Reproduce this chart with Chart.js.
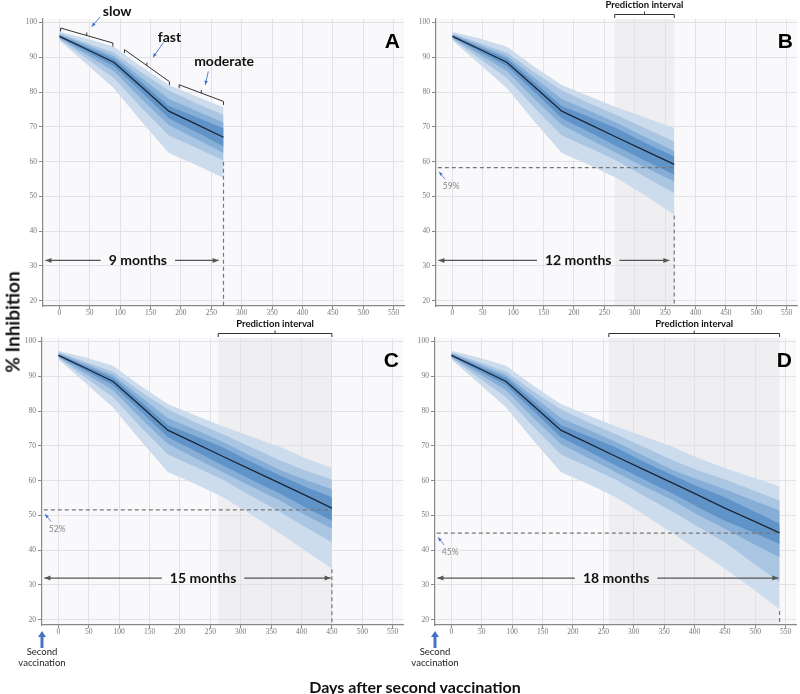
<!DOCTYPE html>
<html>
<head>
<meta charset="utf-8">
<script src="https://cdn.jsdelivr.net/npm/chart.js@4.4.0/dist/chart.umd.min.js"></script>
<style>
  body { margin: 0; background: #fff; font-family: Lato, sans-serif; }
  #page { position: relative; width: 800px; height: 694px; overflow: hidden; }
  canvas { position: absolute; }
  #ytitle { position: absolute; left: 12px; top: 322px; transform: translate(-50%, -50%) rotate(-90deg);
            font-weight: bold; font-size: 19px; white-space: nowrap; color: #111; }
  #xtitle { position: absolute; left: 415px; top: 686px; transform: translate(-50%, -50%);
            font-weight: bold; font-size: 16px; white-space: nowrap; color: #111; }
</style>
</head>
<body>
<div id="page">
  <canvas id="pA" width="393" height="322" style="left:13px;top:0px"></canvas>
  <canvas id="pB" width="393" height="322" style="left:406px;top:0px"></canvas>
  <canvas id="pC" width="393" height="362" style="left:12px;top:319px"></canvas>
  <canvas id="pD" width="393" height="362" style="left:405px;top:319px"></canvas>
  <div id="ytitle">% Inhibition</div>
  <div id="xtitle">Days after second vaccination</div>
</div>
<script>
// ---- data ----
const days   = [0, 45, 90, 135, 180, 225, 270, 315, 365, 405, 450, 495, 540];
const median = [96.0, 92.3, 88.5, 81.5, 74.5, 70.8, 67.0, 63.3, 59.2, 55.9, 52.1, 48.6, 45.0];
// bands, widest (b1) to narrowest (b4)
const b1Hi = [97.3, 95.4, 93.0, 87.3, 82.0, 78.8, 75.6, 72.8, 69.7, 66.6, 63.6, 61.0, 58.3];
const b1Lo = [94.8, 88.0, 81.0, 71.5, 62.5, 59.0, 55.3, 50.5, 44.7, 40.0, 34.7, 29.0, 23.0];
const b2Hi = [96.9, 94.1, 91.3, 85.6, 80.5, 76.8, 73.4, 69.8, 65.8, 63.0, 60.3, 57.3, 54.3];
const b2Lo = [95.2, 89.6, 84.0, 75.5, 67.5, 64.0, 60.3, 55.8, 51.0, 46.8, 42.3, 36.5, 30.8];
const b3Hi = [96.6, 93.5, 90.3, 84.1, 78.0, 74.6, 71.2, 67.3, 63.0, 60.3, 57.5, 54.4, 51.4];
const b3Lo = [95.5, 90.7, 86.0, 78.0, 70.5, 66.5, 62.5, 58.5, 54.3, 50.2, 46.2, 42.0, 38.0];
const b4Hi = [96.3, 92.9, 89.6, 82.8, 76.0, 72.8, 69.6, 65.6, 61.5, 58.3, 55.2, 51.4, 47.6];
const b4Lo = [95.8, 91.6, 87.4, 80.0, 72.5, 68.5, 64.4, 60.5, 56.2, 52.4, 48.5, 45.2, 41.8];

const xTicks = [0, 50, 100, 150, 200, 250, 300, 350, 400, 450, 500, 550];
const yTicks = [20, 30, 40, 50, 60, 70, 80, 90, 100];

const panelLetters = ['A', 'B', 'C', 'D'];
const panelEnds    = [270, 365, 450, 540];
const predStarts   = [null, 267, 263, 259];
const monthLabels  = ['9 months', '12 months', '15 months', '18 months'];
const endValues    = [null, 58.3, 51.6, 44.9];
const endLabels    = [null, '59%', '52%', '45%'];
const dashTops     = [60, 44.5, 34.5, 22.5];

const phaseNames  = ['slow', 'fast', 'moderate'];
const phaseFrom   = [2, 107, 197];
const phaseTo     = [88, 181, 270];

// ---- annotation placement (data units) ----
const phaseBracket = [[98.4, 94.1], [92.2, 83.0], [82.1, 77.3]];
const phaseText    = [[95, 103.1], [181, 95.8], [271, 88.8]];
const phaseArrow   = [[67, 101.6, 53, 98.8], [171, 94.2, 154, 90.0], [245, 85.9, 240, 82.1]];
const monthsY      = [31.6, 31.6, 32.0, 32.0];
const monthsEnd    = [262, 357, 448, 538];
const monthsTextX  = [129, 207, 238, 271];

const bandColors = ['#cddced', '#aac6e2', '#86aed6', '#6094c8'];

function pts(arr, end) {
  const out = [];
  days.forEach((d, i) => { if (d <= end) out.push({ x: d, y: arr[i] }); });
  return out;
}

function arrowHead(ctx, x1, y1, x2, y2, size, width) {
  const ang = Math.atan2(y2 - y1, x2 - x1);
  ctx.beginPath();
  ctx.moveTo(x2, y2);
  ctx.lineTo(x2 - size * Math.cos(ang) + width * Math.sin(ang), y2 - size * Math.sin(ang) - width * Math.cos(ang));
  ctx.lineTo(x2 - size * Math.cos(ang) - width * Math.sin(ang), y2 - size * Math.sin(ang) + width * Math.cos(ang));
  ctx.closePath();
  ctx.fill();
}

function makeAnnot(p) {
  return {
    id: 'annot' + p,
    beforeDraw(chart) {
      const { ctx, chartArea: a, scales: { x } } = chart;
      ctx.save();
      ctx.fillStyle = '#f9f9fb';
      ctx.fillRect(a.left, a.top, a.width, a.height);
      if (predStarts[p] != null) {
        const x0 = x.getPixelForValue(predStarts[p]), x1 = x.getPixelForValue(panelEnds[p]);
        ctx.fillStyle = '#efeff2';
        ctx.fillRect(x0, a.top, x1 - x0, a.height);
      }
      ctx.restore();
    },
    afterDatasetsDraw(chart) {
      const { ctx, chartArea: a, scales: { x, y } } = chart;
      const X = v => x.getPixelForValue(v), Y = v => y.getPixelForValue(v);
      const E = panelEnds[p];
      ctx.save();

      // dashed guide lines
      ctx.strokeStyle = '#777';
      ctx.lineWidth = 1.2;
      ctx.setLineDash([4, 3]);
      ctx.beginPath();
      ctx.moveTo(X(E), Y(dashTops[p]));
      ctx.lineTo(X(E), a.bottom);
      ctx.stroke();
      if (endValues[p] != null) {
        ctx.beginPath();
        ctx.moveTo(X(-24), Y(endValues[p]));
        ctx.lineTo(X(E), Y(endValues[p]));
        ctx.stroke();
      }
      ctx.setLineDash([]);

      // months double arrow
      ctx.font = 'bold 14px Lato';
      ctx.textAlign = 'center';
      ctx.textBaseline = 'middle';
      const my = Y(monthsY[p]), tx = X(monthsTextX[p]);
      const tw = ctx.measureText(monthLabels[p]).width / 2 + 8;
      const xl = X(-23), xr = X(monthsEnd[p]);
      ctx.strokeStyle = '#555';
      ctx.fillStyle = '#555';
      ctx.lineWidth = 1.2;
      ctx.beginPath();
      ctx.moveTo(xl, my); ctx.lineTo(tx - tw, my);
      ctx.moveTo(tx + tw, my); ctx.lineTo(xr, my);
      ctx.stroke();
      arrowHead(ctx, xl + 10, my, xl, my, 6, 2.5);
      arrowHead(ctx, xr - 10, my, xr, my, 6, 2.5);
      ctx.fillStyle = '#111';
      ctx.fillText(monthLabels[p], tx, my);

      // end value label with small blue arrow
      if (endValues[p] != null) {
        const v = endValues[p];
        ctx.strokeStyle = '#4472c4';
        ctx.fillStyle = '#4472c4';
        ctx.lineWidth = 0.8;
        ctx.beginPath();
        ctx.moveTo(X(-12), Y(v - 3.4));
        ctx.lineTo(X(-22), Y(v - 1.2));
        ctx.stroke();
        arrowHead(ctx, X(-12), Y(v - 3.4), X(-22), Y(v - 1.2), 4, 1.6);
        ctx.fillStyle = '#888';
        ctx.font = '8.5px Lato';
        ctx.fillText(endLabels[p], X(-2), Y(v - 5.5));
      }

      // prediction interval bracket
      if (predStarts[p] != null) {
        const x0 = X(predStarts[p]), x1 = X(E), by = a.top - 4.5, mx = (x0 + x1) / 2;
        ctx.strokeStyle = '#333';
        ctx.lineWidth = 1;
        ctx.beginPath();
        ctx.moveTo(x0, by + 3.5); ctx.lineTo(x0, by); ctx.lineTo(x1, by); ctx.lineTo(x1, by + 3.5);
        ctx.moveTo(mx, by); ctx.lineTo(mx, by - 3);
        ctx.stroke();
        ctx.fillStyle = '#111';
        ctx.font = 'bold 9.5px Lato';
        ctx.fillText('Prediction interval', mx, a.top - 14);
      }

      // phase brackets (panel A only)
      if (p === 0) {
        phaseNames.forEach((name, i) => {
          const x0 = X(phaseFrom[i]), y0 = Y(phaseBracket[i][0]);
          const x1 = X(phaseTo[i]), y1 = Y(phaseBracket[i][1]);
          const mx = (x0 + x1) / 2, myb = (y0 + y1) / 2;
          ctx.strokeStyle = '#333';
          ctx.lineWidth = 1;
          ctx.beginPath();
          ctx.moveTo(x0, y0 + 3.5); ctx.lineTo(x0, y0); ctx.lineTo(x1, y1); ctx.lineTo(x1, y1 + 3.5);
          ctx.moveTo(mx, myb); ctx.lineTo(mx, myb - 3);
          ctx.stroke();
          const ar = phaseArrow[i];
          ctx.strokeStyle = '#4472c4';
          ctx.fillStyle = '#4472c4';
          ctx.lineWidth = 0.9;
          ctx.beginPath();
          ctx.moveTo(X(ar[0]), Y(ar[1])); ctx.lineTo(X(ar[2]), Y(ar[3]));
          ctx.stroke();
          arrowHead(ctx, X(ar[0]), Y(ar[1]), X(ar[2]), Y(ar[3]), 4, 1.8);
          ctx.fillStyle = '#111';
          ctx.font = 'bold 14px Lato';
          ctx.fillText(name, X(phaseText[i][0]), Y(phaseText[i][1]));
        });
      }

      // second vaccination marker (bottom panels)
      if (p >= 2) {
        const ax = X(-27), top = a.bottom + 6;
        ctx.fillStyle = '#4472c4';
        ctx.fillRect(ax - 1.5, top + 5, 3, 12);
        ctx.beginPath();
        ctx.moveTo(ax, top); ctx.lineTo(ax - 4, top + 6); ctx.lineTo(ax + 4, top + 6);
        ctx.closePath();
        ctx.fill();
        ctx.fillStyle = '#222';
        ctx.font = '9.5px Lato';
        ctx.fillText('Second', ax, a.bottom + 27);
        ctx.fillText('vaccination', ax, a.bottom + 38);
      }

      // panel letter
      ctx.fillStyle = '#000';
      ctx.font = 'bold 21px "Liberation Sans"';
      ctx.textAlign = 'right';
      ctx.fillText(panelLetters[p], a.right - 4, a.top + 23);
      ctx.restore();
    }
  };
}

function makeChart(p) {
  const E = panelEnds[p];
  const datasets = [];
  const his = [b1Hi, b2Hi, b3Hi, b4Hi], los = [b1Lo, b2Lo, b3Lo, b4Lo];
  for (let b = 0; b < 4; b++) {
    datasets.push({
      data: pts(his[b], E), fill: '+1', backgroundColor: bandColors[b],
      borderWidth: 0, pointRadius: 0, order: 10 - b
    });
    datasets.push({ data: pts(los[b], E), fill: false, borderWidth: 0, pointRadius: 0, order: 0 });
  }
  datasets.push({
    data: pts(median, E), fill: false, borderColor: '#1c2636', borderWidth: 1.3,
    pointRadius: 0, order: 1
  });

  const tickFont = { family: '"Liberation Serif"', size: 7.5 };
  return new Chart(document.getElementById('p' + panelLetters[p]), {
    type: 'line',
    data: { datasets: datasets },
    options: {
      responsive: false,
      animation: false,
      devicePixelRatio: 1,
      layout: { padding: { top: 19, right: 2, left: 0, bottom: p >= 2 ? 40 : 0 } },
      plugins: { legend: { display: false }, tooltip: { enabled: false } },
      scales: {
        x: {
          type: 'linear', min: -27, max: 567,
          afterBuildTicks: s => { s.ticks = xTicks.map(v => ({ value: v })); },
          afterFit: s => { s.height = 16; },
          ticks: { font: tickFont, color: '#777', padding: 0, maxRotation: 0, autoSkip: false },
          grid: { color: '#e1e1e6', tickColor: '#888', tickLength: 3 },
          border: { color: '#888', width: 1.2 }
        },
        y: {
          min: 18.5, max: 101,
          afterBuildTicks: s => { s.ticks = yTicks.map(v => ({ value: v })); },
          afterFit: s => { s.width = 30; },
          ticks: { font: tickFont, color: '#777', padding: 2 },
          grid: { color: '#e1e1e6', tickColor: '#888', tickLength: 4 },
          border: { color: '#888', width: 1.2 }
        }
      }
    },
    plugins: [makeAnnot(p)]
  });
}

[0, 1, 2, 3].forEach(makeChart);
</script>
</body>
</html>
